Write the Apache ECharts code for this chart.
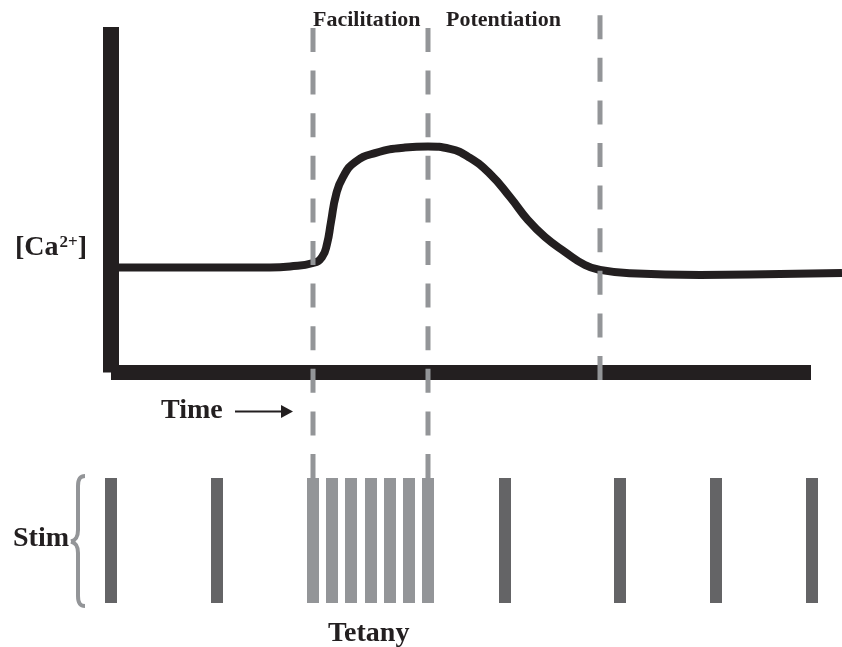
<!DOCTYPE html>
<html>
<head>
<meta charset="utf-8">
<style>
  html, body { margin: 0; padding: 0; background: #fff; }
  #chart { width: 842px; height: 647px; }
</style>
<script src="https://cdn.jsdelivr.net/npm/echarts@6/dist/echarts.min.js"></script>
</head>
<body>
<div id="chart"></div>
<script>
// time in arbitrary units (0 = first stimulus), [Ca2+] in arbitrary units (0-100)
const caTime = [8, 159, 179, 202, 211, 216, 220, 225, 232, 244, 264, 294, 317, 339, 359, 379, 399, 417, 434, 454, 474, 489, 519, 589, 669, 731];
const caLevel = [30.4, 30.4, 30.7, 31.7, 33.4, 37.2, 43.6, 51.4, 56.6, 60.9, 63.5, 65.1, 65.4, 64.7, 62.1, 57.5, 50.8, 44.1, 39.2, 34.9, 31.1, 29.7, 28.7, 28.2, 28.5, 28.8];

const phaseBounds = [202, 317, 489];
const phaseLabels = ["Facilitation", "Potentiation"];

const stimTimes = [0, 106, 394, 509, 605, 701];
const tetanyTimes = [202, 221, 240, 260, 279, 298, 317];

const INK = "#231f20";
const GREY = "#939598";
const DARK = "#646466";
const SERIF = "'Liberation Serif', 'Times New Roman', serif";

const chart = echarts.init(document.getElementById("chart"));

const hiddenAxis = {
  axisLabel: { show: false },
  axisTick: { show: false },
  splitLine: { show: false }
};
const noLine = { axisLine: { show: false }, ...hiddenAxis };

// dashed boundary lines, drawn from the bottom up
const dashBottom = [478, 478, 380];
const dashTop = [28, 28, 15];

const stimBar = color => (params, api) => {
  const base = api.coord([api.value(0), 0]);
  const top = api.coord([api.value(0), 1]);
  return {
    type: "rect",
    shape: { x: base[0] - 6, y: top[1], width: 12, height: base[1] - top[1] },
    style: { fill: color }
  };
};

const label = (text, x, y, size) => ({
  type: "text", x, y,
  style: { text, font: "bold " + size + "px " + SERIF, fill: INK, verticalAlign: "middle" }
});

const braceStyle = { stroke: GREY, lineWidth: 4, fill: null };

const option = {
  animation: false,
  grid: [
    // axes frame
    { left: 111, right: 31, top: 27, bottom: 274.5 },
    // stimulus row
    { left: 111, right: 31, top: 478, bottom: 44 },
    // calcium trace, runs on past the end of the time axis
    { left: 111, right: 0, top: 27, bottom: 274.5 }
  ],
  xAxis: [
    {
      type: "value", gridIndex: 0, min: 0, max: 700,
      axisLine: { show: true, onZero: false, lineStyle: { color: INK, width: 15, cap: "butt" } },
      ...hiddenAxis
    },
    { type: "value", gridIndex: 1, min: 0, max: 700, ...noLine },
    { type: "value", gridIndex: 2, min: 0, max: 731, ...noLine }
  ],
  yAxis: [
    {
      type: "value", gridIndex: 0, min: 0, max: 100,
      axisLine: { show: true, onZero: false, lineStyle: { color: INK, width: 16, cap: "butt" } },
      ...hiddenAxis
    },
    { type: "value", gridIndex: 1, min: 0, max: 1, ...noLine },
    { type: "value", gridIndex: 2, min: 0, max: 100, ...noLine }
  ],
  series: [
    {
      type: "line",
      xAxisIndex: 2, yAxisIndex: 2,
      data: caTime.map((t, i) => [t, caLevel[i]]),
      smooth: 0.5,
      showSymbol: false,
      clip: false,
      z: 3,
      lineStyle: { color: INK, width: 8, join: "round" }
    },
    {
      type: "custom",
      xAxisIndex: 0, yAxisIndex: 0,
      data: phaseBounds.map(t => [t]),
      z: 5,
      renderItem: (params, api) => {
        const x = api.coord([api.value(0), 0])[0];
        const i = params.dataIndex;
        return {
          type: "line",
          shape: { x1: x, y1: dashBottom[i], x2: x, y2: dashTop[i] },
          style: { stroke: GREY, lineWidth: 5, lineDash: [24, 18.6] }
        };
      }
    },
    {
      type: "custom",
      xAxisIndex: 1, yAxisIndex: 1,
      data: stimTimes.map(t => [t]),
      z: 4,
      renderItem: stimBar(DARK)
    },
    {
      type: "custom",
      xAxisIndex: 1, yAxisIndex: 1,
      data: tetanyTimes.map(t => [t]),
      z: 4,
      renderItem: stimBar(GREY)
    }
  ],
  graphic: [
    label(phaseLabels[0], 313, 20, 22),
    label(phaseLabels[1], 446, 20, 22),
    {
      type: "text", x: 15, y: 248,
      style: {
        text: "{b|[Ca}{s|2+}{b|]}",
        verticalAlign: "middle",
        rich: {
          b: { font: "bold 28px " + SERIF, fill: INK },
          s: { font: "bold 17px " + SERIF, fill: INK, padding: [0, 0, 11, 1] }
        }
      }
    },
    label("Time", 161, 411, 28),
    {
      type: "line",
      shape: { x1: 235, y1: 411.5, x2: 284, y2: 411.5 },
      style: { stroke: INK, lineWidth: 2 }
    },
    {
      type: "polygon",
      shape: { points: [[281, 405], [293, 411.5], [281, 418]] },
      style: { fill: INK }
    },
    label("Stim", 13, 539, 28),
    label("Tetany", 328, 634, 28),
    // curly brace beside "Stim"
    { type: "bezierCurve", shape: { x1: 85, y1: 476, cpx1: 80, cpy1: 476, cpx2: 78, cpy2: 479, x2: 78, y2: 486 }, style: braceStyle },
    { type: "line", shape: { x1: 78, y1: 486, x2: 78, y2: 530 }, style: braceStyle },
    { type: "bezierCurve", shape: { x1: 78, y1: 530, cpx1: 78, cpy1: 537, cpx2: 76, cpy2: 540, x2: 71, y2: 541.5 }, style: braceStyle },
    { type: "bezierCurve", shape: { x1: 71, y1: 541.5, cpx1: 76, cpy1: 543, cpx2: 78, cpy2: 546, x2: 78, y2: 553 }, style: braceStyle },
    { type: "line", shape: { x1: 78, y1: 553, x2: 78, y2: 596 }, style: braceStyle },
    { type: "bezierCurve", shape: { x1: 78, y1: 596, cpx1: 78, cpy1: 603, cpx2: 80, cpy2: 606, x2: 85, y2: 606 }, style: braceStyle }
  ]
};

chart.setOption(option);
</script>
</body>
</html>
